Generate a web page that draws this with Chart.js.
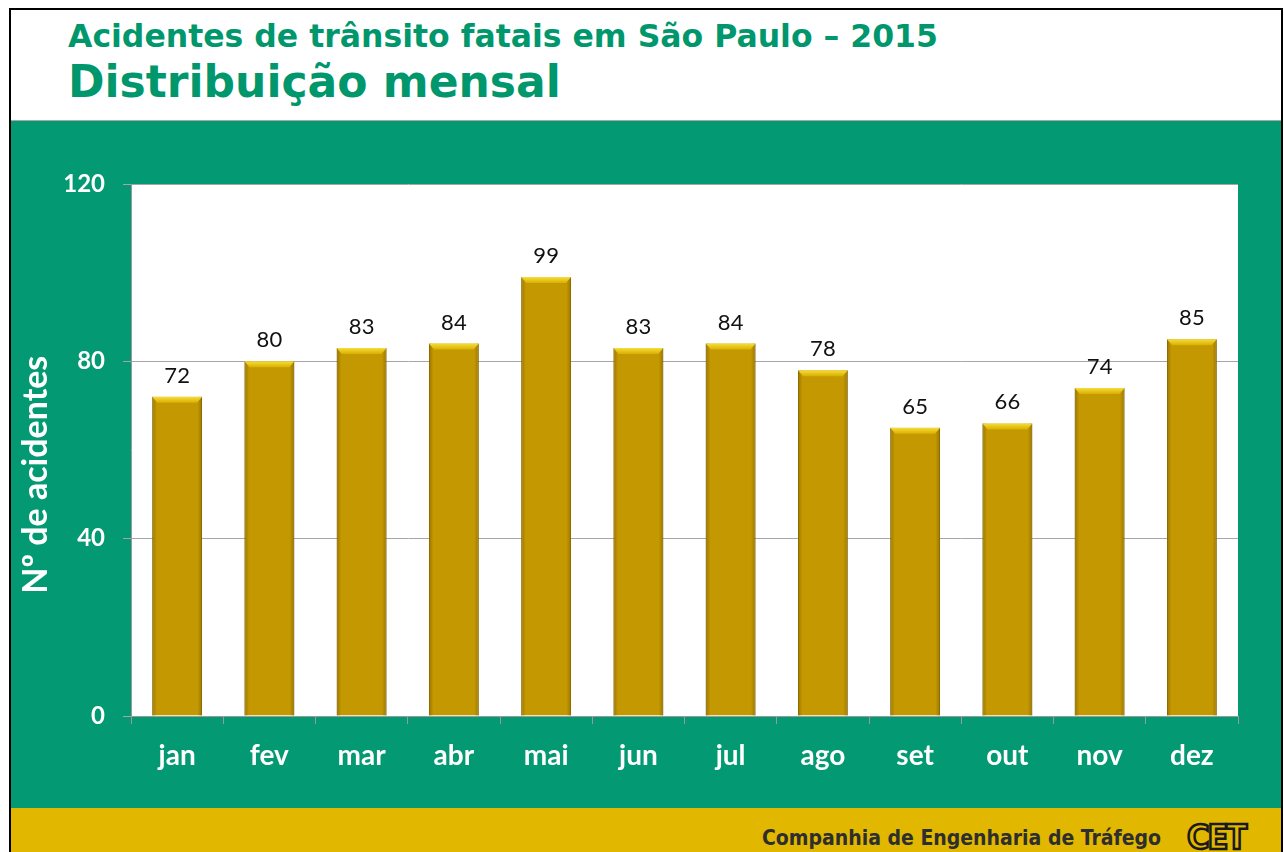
<!DOCTYPE html>
<html>
<head>
<meta charset="utf-8">
<script src="https://cdn.jsdelivr.net/npm/chart.js@4/dist/chart.umd.min.js"></script>
<style>
  html, body { margin: 0; padding: 0; background: #ffffff; width: 1284px; height: 852px; overflow: hidden; }
  .frame { position: absolute; left: 9px; top: 8px; width: 1274px; height: 860px; border: 2px solid #000; box-sizing: border-box; background: #fff; }
  .header { position: absolute; left: 0; top: 0; width: 100%; height: 111px; background: #fff; border-bottom: 1px solid #a8a8a8; box-sizing: border-box; }
  .t1 { position: absolute; left: 57px; top: 8px; font-family: "DejaVu Sans", sans-serif; font-weight: bold; font-size: 31.5px; color: #00976d; white-space: nowrap; }
  .t2 { position: absolute; left: 57px; top: 46px; font-family: "DejaVu Sans", sans-serif; font-weight: bold; font-size: 44px; color: #00976d; white-space: nowrap; }
  .green { position: absolute; left: 0; top: 111px; width: 100%; height: 687px; background: #039972; }
  .footer { position: absolute; left: 0; top: 798px; width: 100%; height: 60px; background: #e1b700; }
  .ftxt { position: absolute; left: 751px; top: 18px; font-family: "DejaVu Sans Condensed", "DejaVu Sans", sans-serif; font-weight: bold; font-size: 21px; color: #2e2e2e; white-space: nowrap; }
  .logo { position: absolute; left: 1176px; top: 9px; font-family: "DejaVu Sans Condensed", "DejaVu Sans", sans-serif; font-weight: bold; font-size: 34px; color: #e1b700; -webkit-text-stroke: 2.5px #1a1a1a; letter-spacing: -2px; }
  #c { position: absolute; left: 11px; top: 121px; }
</style>
</head>
<body>
<div class="frame">
  <div class="header">
    <div class="t1">Acidentes de trânsito fatais em São Paulo – 2015</div>
    <div class="t2">Distribuição mensal</div>
  </div>
  <div class="green"></div>
  <div class="footer">
    <div class="ftxt">Companhia de Engenharia de Tráfego</div>
    <div class="logo">CET</div>
  </div>
</div>
<canvas id="c" width="1269" height="687"></canvas>
<script>
const months = ["jan", "fev", "mar", "abr", "mai", "jun", "jul", "ago", "set", "out", "nov", "dez"];
const accidents = [72, 80, 83, 84, 99, 83, 84, 78, 65, 66, 74, 85];
const yTicks = [0, 40, 80, 120];
const yTitle = "Nº de acidentes      ";

const plotBg = {
  id: "plotBg",
  beforeDraw(chart) {
    const {ctx, chartArea: a} = chart;
    ctx.save();
    ctx.fillStyle = "#ffffff";
    ctx.fillRect(a.left, a.top, a.right - a.left, a.bottom - a.top);
    ctx.restore();
  }
};

const barDeco = {
  id: "barDeco",
  afterDatasetsDraw(chart) {
    const ctx = chart.ctx;
    const meta = chart.getDatasetMeta(0);
    ctx.save();
    meta.data.forEach((el, i) => {
      const w = el.width, l = el.x - w / 2, r = el.x + w / 2, t = el.y, b = el.base;
      let g = ctx.createLinearGradient(l, 0, r, 0);
      g.addColorStop(0, "rgba(120,90,0,0.55)");
      g.addColorStop(0.09, "rgba(120,90,0,0.0)");
      g.addColorStop(0.91, "rgba(120,90,0,0.0)");
      g.addColorStop(1, "rgba(120,90,0,0.55)");
      ctx.fillStyle = g;
      ctx.fillRect(l, t, w, b - t);
      ctx.beginPath();
      ctx.moveTo(l, t);
      ctx.lineTo(r, t);
      ctx.lineTo(r - 5, t + 6);
      ctx.lineTo(l + 5, t + 6);
      ctx.closePath();
      let g2 = ctx.createLinearGradient(0, t, 0, t + 6);
      g2.addColorStop(0, "#f7dc3a");
      g2.addColorStop(1, "#d8b000");
      ctx.fillStyle = g2;
      ctx.fill();
      ctx.fillStyle = "#111111";
      ctx.font = "22px Lato";
      ctx.textAlign = "center";
      ctx.textBaseline = "alphabetic";
      ctx.fillText(String(accidents[i]), el.x, t - 14);
    });
    ctx.restore();
  }
};

new Chart(document.getElementById("c"), {
  type: "bar",
  data: {
    labels: months,
    datasets: [{
      data: accidents,
      backgroundColor: "#c49800",
      borderColor: "#9c7a00",
      borderWidth: 1,
      categoryPercentage: 1,
      barPercentage: 0.54
    }]
  },
  options: {
    responsive: false,
    animation: false,
    devicePixelRatio: 1,
    layout: { padding: { top: 63, right: 42, bottom: 0, left: 0 } },
    plugins: { legend: { display: false }, tooltip: { enabled: false } },
    scales: {
      x: {
        afterFit(s) { s.height = 92; },
        grid: { display: true, drawOnChartArea: false, drawTicks: true, tickLength: 8, color: "#9a9a9a", offset: true },
        border: { display: true, color: "#9a9a9a", width: 1 },
        ticks: { color: "#ffffff", font: { family: "Lato", weight: "bold", size: 28 }, padding: 15 }
      },
      y: {
        min: 0, max: 120,
        afterFit(s) { s.width = 120; },
        afterBuildTicks(s) { s.ticks = yTicks.map(v => ({ value: v })); },
        grid: { color: "#a6a6a6", tickLength: 8, drawTicks: true },
        border: { display: true, color: "#9a9a9a", width: 1 },
        ticks: { color: "#ffffff", font: { family: "Lato", weight: "bold", size: 24 }, padding: 18 },
        title: { display: true, text: yTitle, color: "#ffffff", font: { family: "Lato", weight: "bold", size: 34 }, padding: { top: 5, bottom: 0 } }
      }
    }
  },
  plugins: [plotBg, barDeco]
});
</script>
</body>
</html>
